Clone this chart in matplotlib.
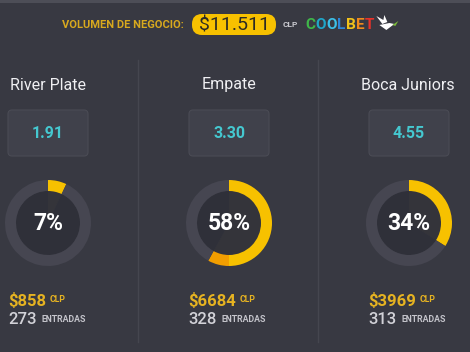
import matplotlib
matplotlib.use("Agg")
import matplotlib.pyplot as plt
from matplotlib.patches import FancyBboxPatch, Rectangle, Polygon

# ---------------- data ----------------
teams = ["River Plate", "Empate", "Boca Juniors"]
odds = ["1.91", "3.30", "4.55"]
pcts = [7, 58, 34]
amounts = [858, 6684, 3969]
entries = [273, 328, 313]
total_volume = "$11.511"
logo_letters = ["C", "O", "O", "L", "B", "E", "T"]
logo_colors = ["#3fb649", "#1fa6c9", "#3cc0e8", "#2f86d8", "#f2c21a", "#f08a1c", "#e8322a"]

# ---------------- style ----------------
W, H = 470, 352
BG = "#383942"
RING_BG = "#464651"
INNER = "#2f3039"
INNER_HL = "#34343a"
YELLOW = "#f7c100"
ORANGE = "#f29e00"
GOLD = "#e6b321"
CYAN = "#45c8d0"
FONT = "Roboto"

fig = plt.figure(figsize=(W / 100, H / 100), dpi=100, facecolor=BG)
ax = fig.add_axes([0, 0, 1, 1])
ax.set_xlim(0, W)
ax.set_ylim(H, 0)
ax.axis("off")
ax.set_facecolor(BG)

# top strip
ax.add_patch(Rectangle((0, 0), W, 3, color="#4d4e57", lw=0))

# column dividers
for xd in (138, 318):
    ax.plot([xd, xd], [60, 342], color="#45464f", lw=1)

renderer = fig.canvas.get_renderer()


def text_right(t):
    bb = t.get_window_extent(renderer=renderer)
    inv = ax.transData.inverted()
    return inv.transform((bb.x1, bb.y0))[0]


def spaced(s):
    return "\u2009".join(s)


# ---------------- header ----------------
ax.text(62, 25, "VOLUMEN DE NEGOCIO:", color="#d8a91e", fontsize=8,
        fontweight="bold", family=FONT, ha="left", va="center")
ax.add_patch(FancyBboxPatch((192, 14), 84, 21,
                            boxstyle="round,pad=0,rounding_size=10",
                            facecolor=YELLOW, edgecolor="none"))
ax.text(234, 25, total_volume, color="#2b2a24", fontsize=14, family=FONT,
        ha="center", va="center")
ax.text(283, 24.5, "CLP", color="#c9c9cf", fontsize=6, fontweight="bold",
        family=FONT, ha="left", va="center")

x = 305
for letter, col in zip(logo_letters, logo_colors):
    t = ax.text(x, 25, letter, color=col, fontsize=11, fontweight="bold",
                family=FONT, ha="left", va="center")
    x = text_right(t) + 0.3

# small dove logo
bx = x + 2
ax.add_patch(Polygon([(bx, 16), (bx + 6, 24), (bx + 11, 22), (bx + 8, 15), (bx + 7, 20)],
                     closed=True, facecolor="white", edgecolor="none"))
ax.add_patch(Polygon([(bx + 3, 25), (bx + 10, 30), (bx + 14, 27), (bx + 18, 24),
                      (bx + 13, 23), (bx + 8, 24)],
                     closed=True, facecolor="white", edgecolor="none"))
ax.add_patch(Polygon([(bx + 16, 25), (bx + 22, 21), (bx + 19, 26)],
                     closed=True, facecolor="#7ab83a", edgecolor="none"))

# ---------------- columns ----------------
centers = [48, 229, 409]
name_x = [10, 229, 455]
name_ha = ["left", "center", "right"]
text_left = [8, 188, 368]
R = 43
RW = 11
CY = 223

for i in range(3):
    cx = centers[i]
    ax.text(name_x[i], 85, teams[i], color="#efeff2", fontsize=11.5,
            family=FONT, ha=name_ha[i], va="center")

    # odds box
    ax.add_patch(FancyBboxPatch((cx - 40, 110), 80, 46,
                                boxstyle="round,pad=0,rounding_size=4",
                                facecolor="#40414b", edgecolor="#4a4b55", lw=0.8))
    ax.text(cx, 133.5, odds[i], color=CYAN, fontsize=11.5, fontweight="bold",
            family=FONT, ha="center", va="center")

    # donut
    dax = fig.add_axes([(cx - R) / W, 1 - (CY + R) / H, 2 * R / W, 2 * R / H])
    dax.axis("off")
    p = pcts[i]
    dax.pie([p, 100 - p], radius=(R - RW) / R, colors=[INNER_HL, INNER],
            startangle=90, counterclock=False,
            wedgeprops=dict(linewidth=0))
    vals = [min(p, 50), max(p - 50, 0), 100 - p]
    dax.pie(vals, radius=1, colors=[YELLOW, ORANGE, RING_BG],
            startangle=90, counterclock=False,
            wedgeprops=dict(width=RW / R, linewidth=0))
    dax.set_xlim(-1, 1)
    dax.set_ylim(-1, 1)
    dax.text(0, -0.01, f"{p}%", color="white", fontsize=16.5,
             fontweight="bold", family=FONT, ha="center", va="center")

    # amount + entries
    t = ax.text(text_left[i], 301, f"${amounts[i]}", color=GOLD, fontsize=12,
                fontweight="bold", family=FONT, ha="left", va="center")
    ax.text(text_right(t) + 4, 299.5, "CLP", color=GOLD, fontsize=6.3,
            fontweight="bold", family=FONT, ha="left", va="center")
    t2 = ax.text(text_left[i], 319.5, f"{entries[i]}", color="#d2d2d8",
                 fontsize=12, fontweight="medium", family=FONT,
                 ha="left", va="center")
    ax.text(text_right(t2) + 5, 319.5, "ENTRADAS", color="#c4c4cb", fontsize=6.3,
            fontweight="bold", family=FONT, ha="left", va="center")

fig.savefig("out.png", dpi=100, facecolor=BG)
